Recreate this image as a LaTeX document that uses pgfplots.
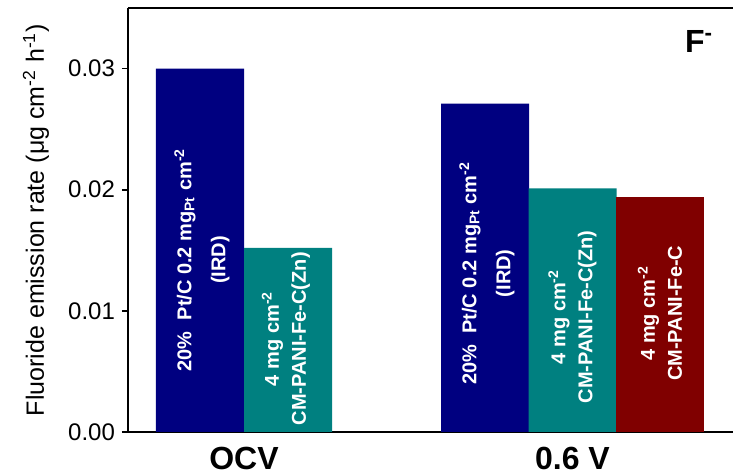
\documentclass[border=0pt]{standalone}
\usepackage{pgfplots}
\pgfplotsset{compat=1.18}
\usepackage{fontspec}
\setmainfont{Liberation Sans}
\definecolor{navyc}{HTML}{000080}
\definecolor{tealc}{HTML}{008080}
\definecolor{maroonc}{HTML}{800000}
\begin{document}
\begin{tikzpicture}
\begin{axis}[
  scale only axis, width=302.5pt, height=212pt,
  xmin=128, xmax=733, ymin=0, ymax=0.035,
  axis x line*=bottom, axis y line*=left,
  axis line style={line width=1pt, -},
  ytick={0,0.01,0.02,0.03},
  scaled y ticks=false,
  yticklabel style={/pgf/number format/fixed, /pgf/number format/fixed zerofill, /pgf/number format/precision=2, /pgf/number format/assume math mode=true, font=\fontsize{12}{14}\selectfont},
  xtick={244,572.5}, xticklabels={OCV,0.6 V},
  xticklabel style={font=\bfseries\fontsize{16}{18}\selectfont, anchor=center, yshift=-10.3pt},
  tick align=outside, major tick length=3pt,
  ytick style={line width=0.8pt, black},
  xtick style={draw=none},
  ylabel={Fluoride emission rate (μg cm\textsuperscript{-2} h\textsuperscript{-1})},
  ylabel style={at={(axis description cs:-0.152,0.5)}, anchor=center, font=\fontsize{12.5}{14}\selectfont},
  clip=false,
]
\addplot[ybar, bar width=88, fill=navyc, draw=none] coordinates {(200,0.0300) (485,0.0271)};
\addplot[ybar, bar width=88, fill=tealc, draw=none] coordinates {(288,0.0152) (572.5,0.0201)};
\addplot[ybar, bar width=88, fill=maroonc, draw=none] coordinates {(660,0.0194)};
\draw[line width=1pt] (rel axis cs:0,1) -- (rel axis cs:1,1);
\node[rotate=90, align=center, text=white, font=\bfseries\fontsize{10}{17}\selectfont] at (axis cs:202,0.0142) {20\%\ \ Pt/C 0.2 mg\textsubscript{Pt} cm\textsuperscript{-2}\\(IRD)};
\node[rotate=90, align=center, text=white, font=\bfseries\fontsize{10}{13.5}\selectfont] at (axis cs:286,0.0077) {4 mg cm\textsuperscript{-2}\\CM-PANI-Fe-C(Zn)};
\node[rotate=90, align=center, text=white, font=\bfseries\fontsize{10}{17}\selectfont] at (axis cs:487,0.0131) {20\%\ \ Pt/C 0.2 mg\textsubscript{Pt} cm\textsuperscript{-2}\\(IRD)};
\node[rotate=90, align=center, text=white, font=\bfseries\fontsize{10}{13.5}\selectfont] at (axis cs:572.5,0.0095) {4 mg cm\textsuperscript{-2}\\CM-PANI-Fe-C(Zn)};
\node[rotate=90, align=center, text=white, font=\bfseries\fontsize{10}{13.5}\selectfont] at (axis cs:660,0.0098) {4 mg cm\textsuperscript{-2}\\CM-PANI-Fe-C};
\node[font=\bfseries\fontsize{16}{18}\selectfont] at (axis cs:699,0.0322) {F\textsuperscript{-}};
\coordinate (sw) at (rel axis cs:0,0);
\coordinate (ne) at (rel axis cs:1,1);
\end{axis}
\pgfresetboundingbox
\path ([shift={(-64pt,-21pt)}]sw) rectangle ([shift={(0pt,4pt)}]ne);
\end{tikzpicture}
\end{document}
